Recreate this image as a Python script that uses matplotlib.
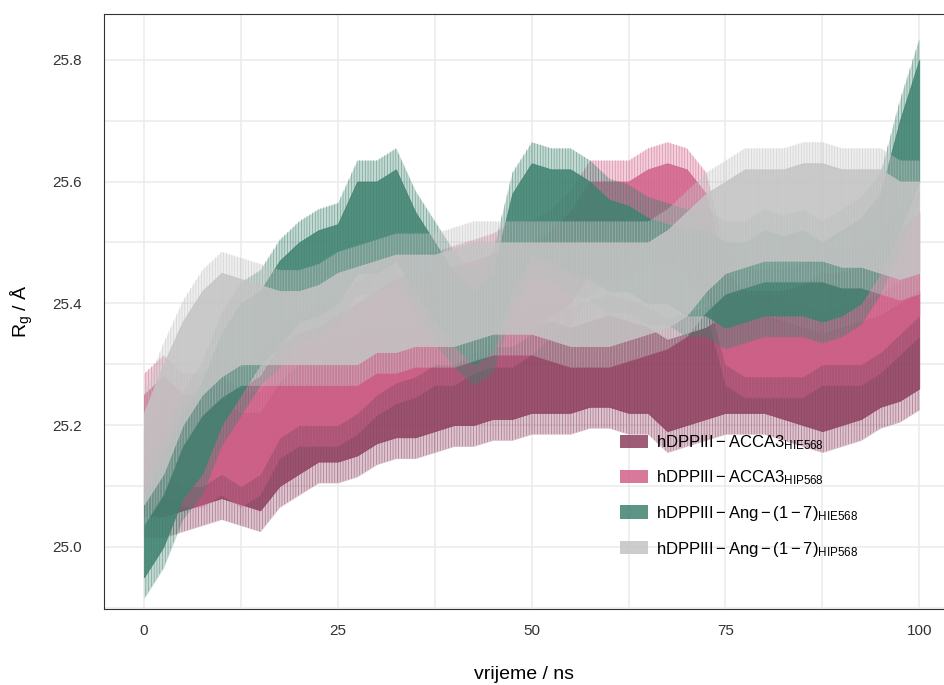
import numpy as np
import matplotlib
matplotlib.use("Agg")
import matplotlib.pyplot as plt
from matplotlib.patches import Patch
from matplotlib.ticker import MultipleLocator

plt.rcParams["font.family"] = ["Liberation Sans", "DejaVu Sans"]
plt.rcParams["mathtext.fontset"] = "custom"
plt.rcParams["mathtext.rm"] = "Liberation Sans"
plt.rcParams["mathtext.it"] = "Liberation Sans:italic"
plt.rcParams["hatch.linewidth"] = 0.5

# time axis (ns), sampled every 2.5 ns
time_ns = np.arange(0, 100.1, 2.5)

# band of each trace (lower / upper edge, in Angstrom)
acca3_hie_low = [25.05, 25.05, 25.06, 25.07, 25.08, 25.07, 25.06, 25.10, 25.12, 25.14,
                 25.14, 25.15, 25.17, 25.18, 25.18, 25.19, 25.20, 25.20, 25.21, 25.21,
                 25.22, 25.22, 25.22, 25.23, 25.23, 25.22, 25.22, 25.19, 25.20, 25.21,
                 25.22, 25.22, 25.22, 25.21, 25.20, 25.19, 25.20, 25.21, 25.23, 25.24, 25.26]
acca3_hie_high = [25.15, 25.20, 25.20, 25.22, 25.24, 25.22, 25.22, 25.27, 25.30, 25.30,
                  25.32, 25.32, 25.33, 25.33, 25.33, 25.34, 25.35, 25.35, 25.36, 25.36,
                  25.36, 25.37, 25.36, 25.37, 25.38, 25.37, 25.36, 25.34, 25.35, 25.36,
                  25.38, 25.38, 25.38, 25.37, 25.36, 25.35, 25.36, 25.37, 25.38, 25.40, 25.42]

acca3_hip_low = [25.10, 25.12, 25.10, 25.10, 25.12, 25.10, 25.12, 25.18, 25.20, 25.20,
                 25.20, 25.22, 25.25, 25.27, 25.28, 25.30, 25.30, 25.32, 25.33, 25.33,
                 25.35, 25.38, 25.40, 25.45, 25.47, 25.48, 25.50, 25.50, 25.48, 25.42,
                 25.30, 25.28, 25.28, 25.28, 25.28, 25.30, 25.30, 25.30, 25.32, 25.35, 25.38]
acca3_hip_high = [25.25, 25.28, 25.25, 25.25, 25.28, 25.26, 25.28, 25.33, 25.35, 25.36,
                  25.38, 25.40, 25.42, 25.44, 25.45, 25.45, 25.46, 25.47, 25.48, 25.50,
                  25.50, 25.52, 25.55, 25.60, 25.60, 25.60, 25.62, 25.63, 25.62, 25.58,
                  25.45, 25.42, 25.42, 25.42, 25.43, 25.45, 25.45, 25.46, 25.48, 25.52, 25.55]

ang_hie_low = [24.95, 25.00, 25.08, 25.12, 25.20, 25.25, 25.30, 25.33, 25.37, 25.38,
               25.40, 25.45, 25.45, 25.47, 25.42, 25.37, 25.33, 25.30, 25.32, 25.42,
               25.48, 25.47, 25.45, 25.44, 25.42, 25.42, 25.40, 25.40, 25.38, 25.38,
               25.36, 25.37, 25.38, 25.38, 25.38, 25.37, 25.38, 25.40, 25.45, 25.52, 25.60]
ang_hie_high = [25.08, 25.15, 25.22, 25.27, 25.35, 25.40, 25.42, 25.47, 25.50, 25.52,
                25.53, 25.60, 25.60, 25.62, 25.55, 25.50, 25.45, 25.42, 25.45, 25.58,
                25.63, 25.62, 25.62, 25.60, 25.57, 25.56, 25.54, 25.53, 25.52, 25.52,
                25.50, 25.50, 25.52, 25.51, 25.52, 25.50, 25.52, 25.54, 25.58, 25.70, 25.80]

ang_hip_low = [25.07, 25.12, 25.20, 25.25, 25.28, 25.30, 25.30, 25.30, 25.30, 25.30,
               25.30, 25.30, 25.32, 25.32, 25.33, 25.33, 25.33, 25.34, 25.35, 25.35,
               25.35, 25.34, 25.33, 25.33, 25.33, 25.34, 25.35, 25.36, 25.38, 25.42,
               25.45, 25.46, 25.47, 25.47, 25.47, 25.47, 25.46, 25.46, 25.45, 25.44, 25.45]
ang_hip_high = [25.22, 25.30, 25.37, 25.42, 25.45, 25.44, 25.43, 25.42, 25.42, 25.43,
                25.45, 25.46, 25.47, 25.48, 25.48, 25.48, 25.49, 25.50, 25.50, 25.50,
                25.50, 25.50, 25.50, 25.50, 25.50, 25.50, 25.50, 25.52, 25.55, 25.58,
                25.60, 25.62, 25.62, 25.62, 25.63, 25.63, 25.62, 25.62, 25.62, 25.60, 25.60]

labels = [
    r"$\mathrm{hDPPIII-ACCA3_{HIE568}}$",
    r"$\mathrm{hDPPIII-ACCA3_{HIP568}}$",
    r"$\mathrm{hDPPIII-Ang-(1-7)_{HIE568}}$",
    r"$\mathrm{hDPPIII-Ang-(1-7)_{HIP568}}$",
]
colors = ["#8E3F5E", "#D2628A", "#3F8270", "#C4C4C4"]

bands = [
    (acca3_hie_low, acca3_hie_high),
    (acca3_hip_low, acca3_hip_high),
    (ang_hie_low, ang_hie_high),
    (ang_hip_low, ang_hip_high),
]

fig = plt.figure(figsize=(9.45, 6.85), dpi=100)
ax = fig.add_axes([0.110, 0.111, 0.889, 0.869])

fringe = 0.035  # width of the fuzzy fringe drawn round each band
for (lo, hi), c in zip(bands, colors):
    lo = np.array(lo)
    hi = np.array(hi)
    # soft outer fringe for the fast fluctuations, fine stripes on top
    ax.fill_between(time_ns, lo - fringe, hi + fringe, color=c, alpha=0.3, lw=0)
    ax.fill_between(time_ns, lo - fringe, hi + fringe, facecolor="none",
                    edgecolor=c, hatch="||||||", lw=0, alpha=0.6)
    ax.fill_between(time_ns, lo, hi, color=c, alpha=0.85, lw=0.6, edgecolor=c)

ax.set_xlim(-5.16, 103.2)
ax.set_ylim(24.898, 25.8756)
ax.xaxis.set_major_locator(MultipleLocator(25))
ax.xaxis.set_minor_locator(MultipleLocator(12.5))
ax.yaxis.set_major_locator(MultipleLocator(0.2))
ax.yaxis.set_minor_locator(MultipleLocator(0.1))
ax.yaxis.set_major_formatter(matplotlib.ticker.FormatStrFormatter("%.1f"))
ax.grid(True, which="both", color="#EBEBEB", lw=1.1)
ax.set_axisbelow(True)
ax.tick_params(which="both", length=0, labelsize=11, colors="#333333")
ax.tick_params(axis="y", pad=16)
ax.tick_params(axis="x", pad=11)

for side in ["left", "bottom", "top"]:
    ax.spines[side].set_color("#333333")
    ax.spines[side].set_linewidth(0.8)
ax.spines["right"].set_visible(False)

ax.set_xlabel("vrijeme / ns", fontsize=14, labelpad=20)
ax.set_ylabel(r"$\mathrm{R_g}$ / Å", fontsize=14, labelpad=12)

handles = [Patch(facecolor=c, edgecolor="none", alpha=0.85) for c in colors]
ax.legend(handles, labels, loc="upper left", bbox_to_anchor=(0.6, 0.315),
          frameon=False, fontsize=12, handlelength=1.7, handleheight=0.85,
          labelspacing=1.0, handletextpad=0.45, borderpad=0.2)

fig.savefig("out.png", dpi=100)
